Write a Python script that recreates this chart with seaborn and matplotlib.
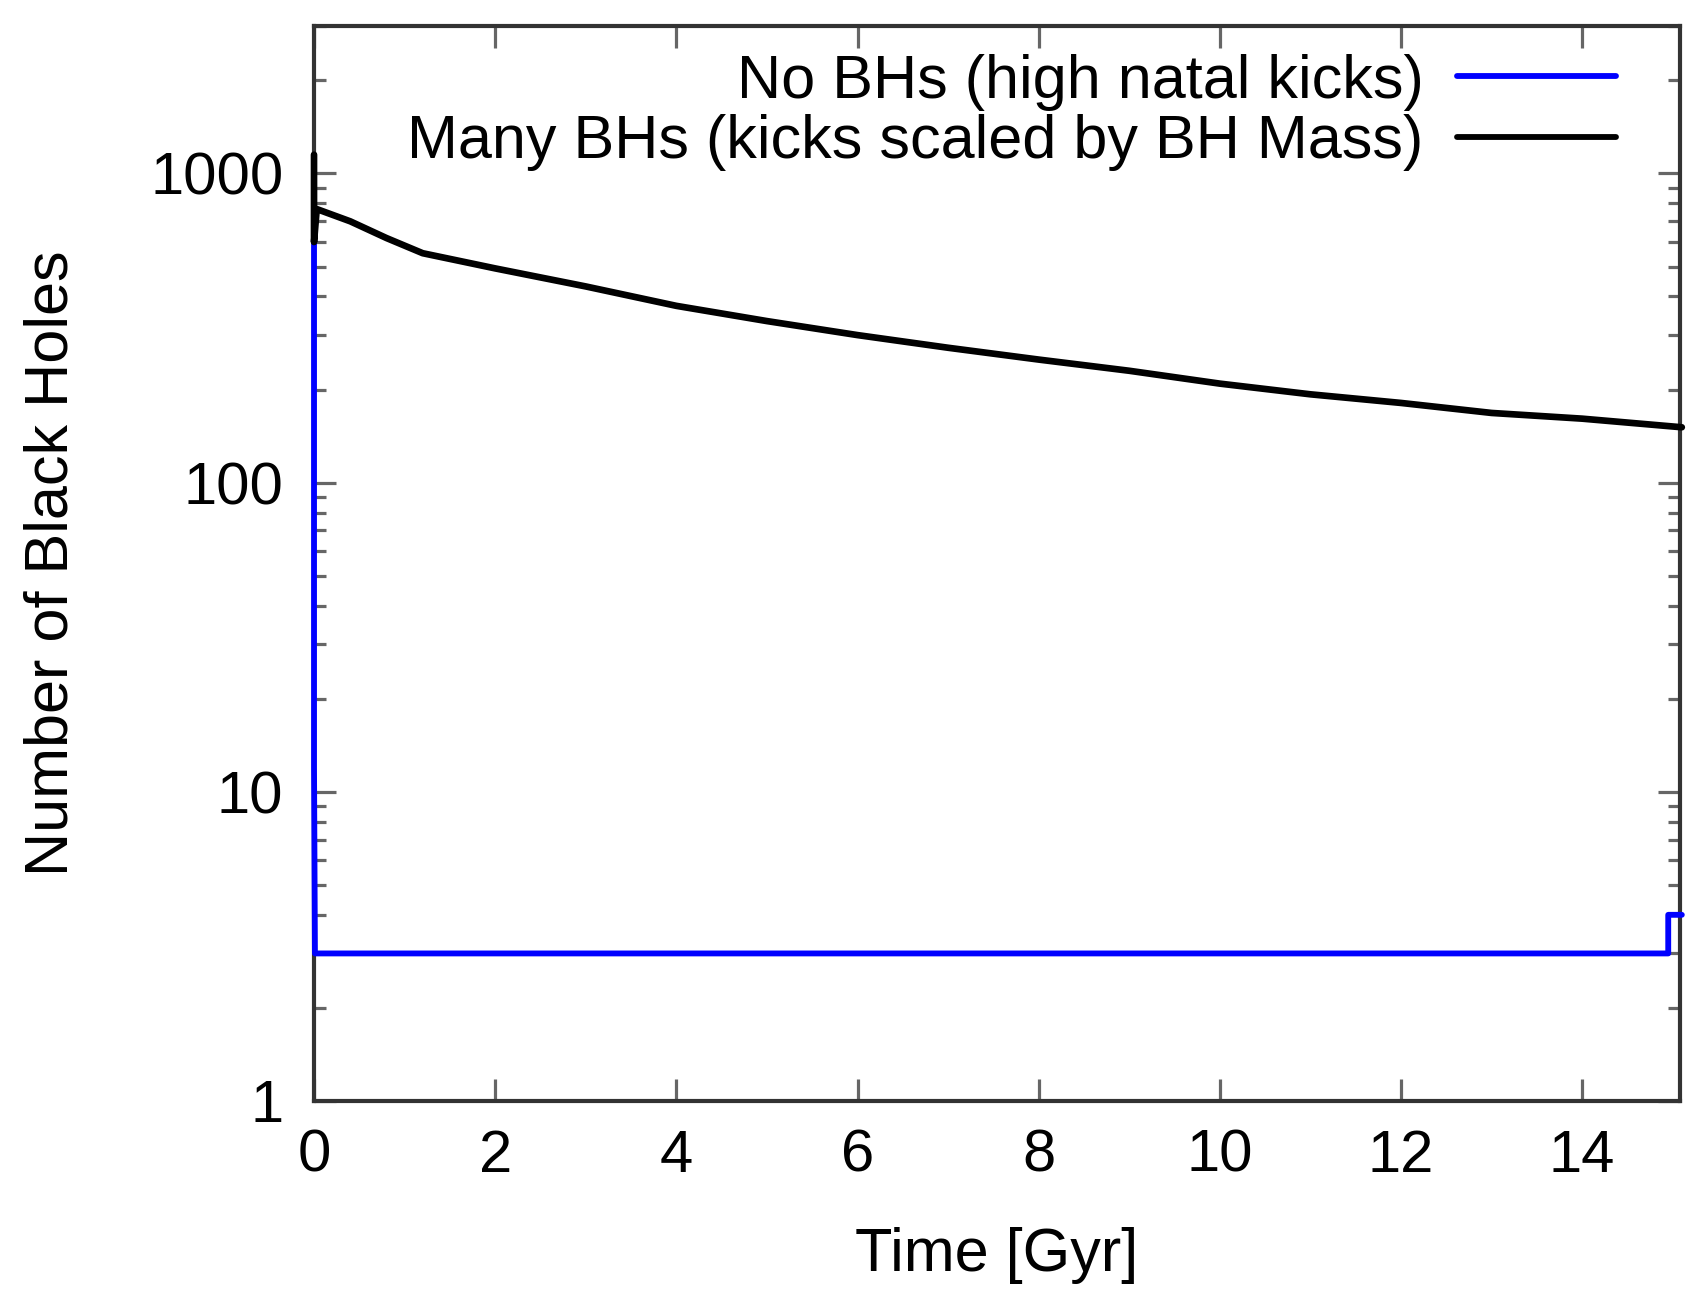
import numpy as np
import pandas as pd
import matplotlib
matplotlib.use("Agg")
import matplotlib.pyplot as plt
import seaborn as sns

# ---- data ----
t_many = [0.0, 0.0, 0.03, 0.4, 0.8, 1.2, 2.0, 3.0, 4.0, 5.0, 6.0, 7.0, 8.0, 9.0, 10.0, 11.0, 12.0, 13.0, 14.0, 15.1]
n_many = [1150, 600, 767, 700, 618, 552, 493, 431, 373, 333, 300, 273, 250, 230, 209, 193, 181, 168, 161, 151]

t_none = [0.0, 0.0, 0.01, 14.95, 14.95, 15.1]
n_none = [750, 12, 3, 3, 4, 4]

label_none = "No BHs (high natal kicks)"
label_many = "Many BHs (kicks scaled by BH Mass)"
x_ticks = [0, 2, 4, 6, 8, 10, 12, 14]
y_ticks = [1, 10, 100, 1000]
y_ticklabels = ["1", "10", "100", "1000"]

df_none = pd.DataFrame({"t": t_none, "n": n_none})
df_many = pd.DataFrame({"t": t_many, "n": n_many})

sns.set_theme(style="ticks")
plt.rcParams["font.family"] = ["Liberation Sans", "DejaVu Sans"]
plt.rcParams["text.color"] = "black"
plt.rcParams["axes.labelcolor"] = "black"

fig = plt.figure(figsize=(16.91, 12.96), dpi=100)
ax = fig.add_axes([0.1857, 0.1505, 0.9935 - 0.1857, 0.980 - 0.1505])

sns.lineplot(data=df_none, x="t", y="n", ax=ax, sort=False, estimator=None,
             color="#0000ff", lw=4.2, label=label_none, clip_on=False)
sns.lineplot(data=df_many, x="t", y="n", ax=ax, sort=False, estimator=None,
             color="black", lw=4.8, label=label_many, clip_on=False)

ax.set_yscale("log")
ax.set_xlim(0, 15.08)
ax.set_ylim(1, 3000)
ax.set_xticks(x_ticks)
ax.set_xticklabels([str(v) for v in x_ticks])
ax.set_yticks(y_ticks)
ax.set_yticklabels(y_ticklabels)
ax.yaxis.set_minor_locator(matplotlib.ticker.LogLocator(base=10, subs=np.arange(2, 10)))
ax.yaxis.set_minor_formatter(matplotlib.ticker.NullFormatter())

ax.tick_params(axis="both", which="major", direction="in", length=16, width=2.3,
               color="#666666", labelcolor="black", labelsize=43, top=True, right=True)
ax.tick_params(axis="both", which="minor", direction="in", length=8.5, width=2.3,
               color="#666666", top=True, right=True)
ax.tick_params(axis="x", which="major", pad=20)
ax.tick_params(axis="y", which="major", pad=22)
for s in ax.spines.values():
    s.set_linewidth(3)
    s.set_color("#333333")
    s.set_zorder(1)

ax.set_xlabel("Time [Gyr]", fontsize=44, labelpad=31)
ax.set_ylabel("Number of Black Holes", fontsize=44, labelpad=50)

leg = ax.legend(loc="upper right", bbox_to_anchor=(0.953, 0.974), frameon=False,
                fontsize=44, markerfirst=False, handlelength=2.6, handletextpad=0.55,
                labelspacing=0.05, borderpad=0, borderaxespad=0)
for h in leg.get_lines():
    h.set_linewidth(4.2)

fig.savefig("out.png", dpi=100)
